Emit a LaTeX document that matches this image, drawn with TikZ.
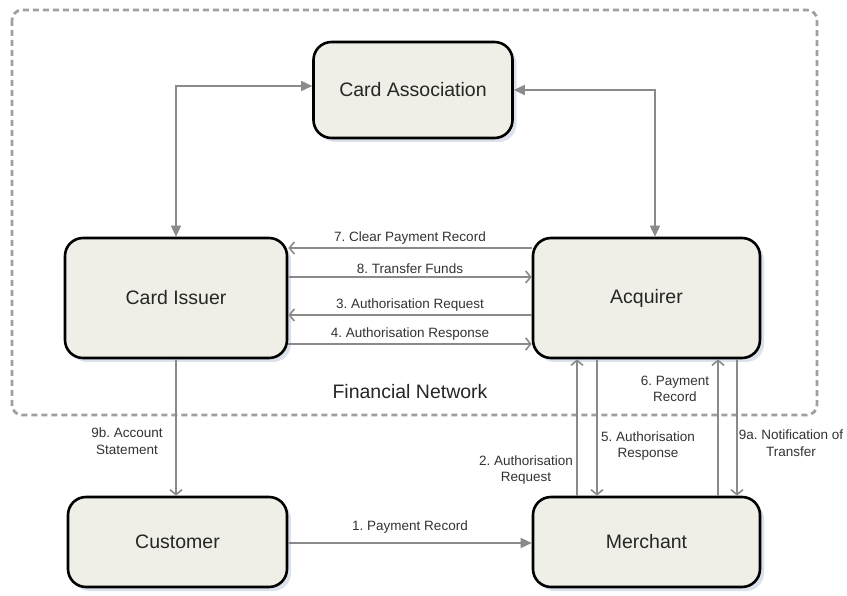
\documentclass[tikz,border=0pt]{standalone}
\usepackage{fontspec}
\setmainfont{Liberation Sans}
\usetikzlibrary{arrows.meta,calc,shadows}
\definecolor{boxfill}{HTML}{EFEFE7}
\definecolor{shadowc}{HTML}{DCE2EC}
\definecolor{arrowc}{HTML}{8A8A8A}
\definecolor{dashc}{HTML}{A0A0A0}
\definecolor{labc}{HTML}{333333}
\tikzset{
  entity/.style={draw=black, line width=2.6pt, fill=boxfill, rounded corners=18pt,
    font=\fontsize{19.5}{23}\selectfont, text=black!85, inner sep=0pt,
    drop shadow={shadow xshift=4pt, shadow yshift=-4pt, fill=shadowc, opacity=1}},
  flow/.style={draw=arrowc, line width=1.6pt, -{Straight Barb[length=5pt,width=12pt,line width=1.6pt]}},
  bflow/.style={draw=arrowc, line width=1.6pt, {Triangle[length=11pt,width=10pt]}-{Triangle[length=11pt,width=10pt]}},
  fflow/.style={draw=arrowc, line width=1.6pt, -{Triangle[length=11pt,width=10pt]}},
  lab/.style={font=\fontsize{13.5}{16.5}\selectfont, text=labc, align=center, inner sep=1pt},
}
\frenchspacing
\begin{document}
\begin{tikzpicture}[x=1pt,y=-1pt]
\useasboundingbox (0,0) rectangle (847,596);
\fill[white] (0,0) rectangle (847,596);
% financial network boundary
\draw[dashc, line width=2.8pt, dash pattern=on 6pt off 4pt, rounded corners=10pt] (12,10) rectangle (817,415);
\node[font=\fontsize{19.5}{23}\selectfont, text=black!85] (fn) at (410,392) {Financial Network};
% entities
\node[entity, minimum width=199pt, minimum height=96pt] (CA) at (413,90) {Card Association};
\node[entity, minimum width=222pt, minimum height=120pt] (CI) at (176,298) {Card Issuer};
\node[entity, minimum width=227pt, minimum height=120pt] (ACQ) at (646.5,298) {Acquirer};
\node[entity, minimum width=219pt, minimum height=90pt] (CUS) at (177.5,542) {Customer};
\node[entity, minimum width=227pt, minimum height=90pt] (MER) at (646.5,542) {Merchant};
% card association links
\draw[bflow] (CI.north) |- ([yshift=4pt]CA.west);
\draw[bflow] (CA.east) -| ([xshift=8.5pt]ACQ.north);
% issuer - acquirer
\draw[flow] (ACQ.west |- {(0,248)}) -- (CI.east |- {(0,248)}) node[lab, midway, above=2pt] (l7) {7. Clear Payment Record};
\draw[flow] (CI.east |- {(0,277)}) -- (ACQ.west |- {(0,277)}) node[lab, midway, above=2pt] (l8) {8. Transfer Funds};
\draw[flow] (ACQ.west |- {(0,315)}) -- (CI.east |- {(0,315)}) node[lab, midway, above=2pt] (l3) {3. Authorisation Request};
\draw[flow] (CI.east |- {(0,344)}) -- (ACQ.west |- {(0,344)}) node[lab, midway, above=2pt] (l4) {4. Authorisation Response};
% issuer - customer
\draw[flow] (CI.south) -- (CI.south |- CUS.north);
\node[lab] (l9b) at (127,441) {9b. Account\\Statement};
% customer - merchant
\draw[fflow] (CUS.east |- {(0,543)}) -- (MER.west |- {(0,543)}) node[lab, midway, above=8pt] (l1) {1. Payment Record};
% merchant - acquirer
\draw[flow] (MER.north -| {(577,0)}) -- (ACQ.south -| {(577,0)});
\draw[flow] (ACQ.south -| {(597,0)}) -- (MER.north -| {(597,0)});
\draw[flow] (MER.north -| {(718,0)}) -- (ACQ.south -| {(718,0)});
\draw[flow] (ACQ.south -| {(737,0)}) -- (MER.north -| {(737,0)});
\node[lab] (l2) at (526,470) {2. Authorisation\\Request};
\node[lab] (l5) at (648,446) {5. Authorisation\\Response};
\node[lab] (l6) at (675,389) {6. Payment\\Record};
\node[lab] (l9a) at (791,443) {9a. Notification of\\Transfer};
\end{tikzpicture}
\end{document}
